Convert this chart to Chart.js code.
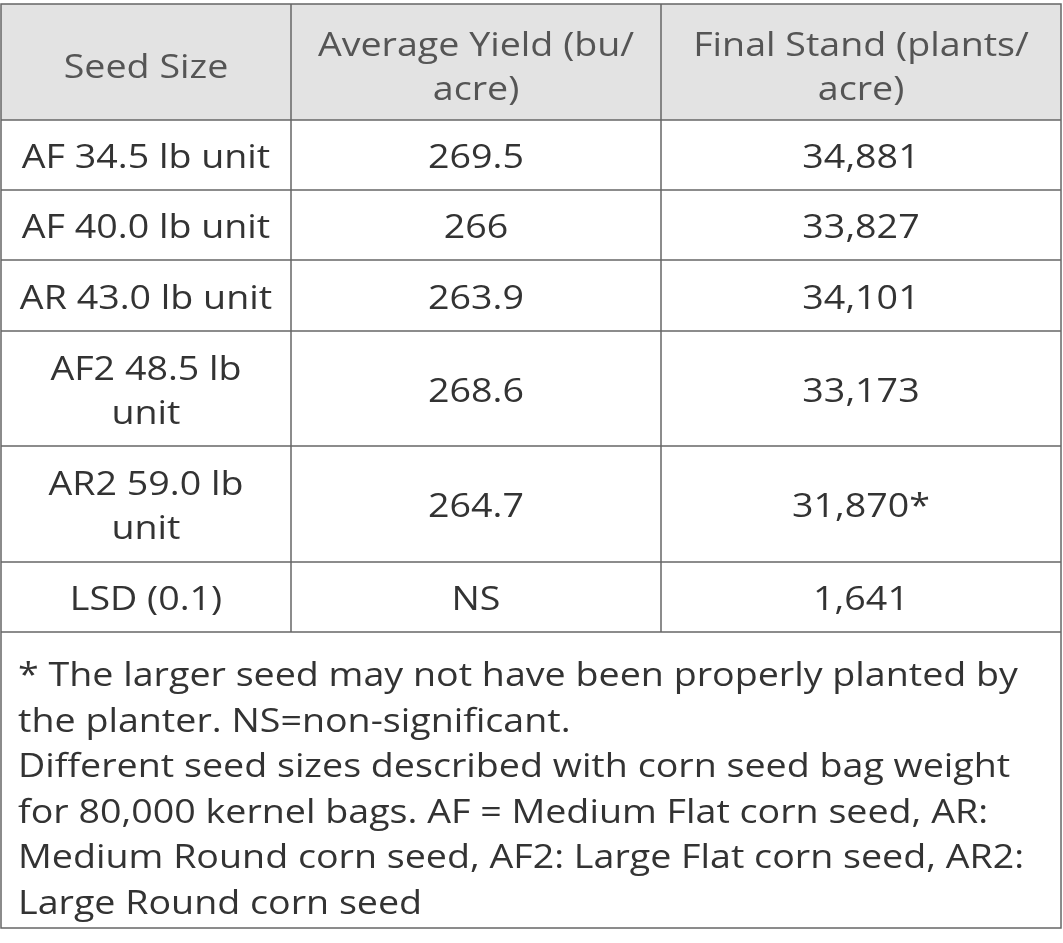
<!DOCTYPE html>
<html><head><meta charset="utf-8">
<script src="https://cdn.jsdelivr.net/npm/chart.js@4.4.0/dist/chart.umd.min.js"></script>
<style>html,body{margin:0;padding:0;background:#fff}#wrap{width:1063px;height:943px}</style>
</head><body><div id="wrap"><canvas id="c"></canvas></div>
<script>
const headers = [['Seed Size'], ['Average Yield (bu/', 'acre)'], ['Final Stand (plants/', 'acre)']];
const seedSizes = [['AF 34.5 lb unit'], ['AF 40.0 lb unit'], ['AR 43.0 lb unit'], ['AF2 48.5 lb', 'unit'], ['AR2 59.0 lb', 'unit'], ['LSD (0.1)']];
const avgYield = ['269.5', '266', '263.9', '268.6', '264.7', 'NS'];
const finalStand = ['34,881', '33,827', '34,101', '33,173', '31,870*', '1,641'];
const notes = [
  '* The larger seed may not have been properly planted by',
  'the planter. NS=non-significant.',
  'Different seed sizes described with corn seed bag weight',
  'for 80,000 kernel bags. AF = Medium Flat corn seed, AR:',
  'Medium Round corn seed, AF2: Large Flat corn seed, AR2:',
  'Large Round corn seed'
];

// grid geometry
const colX = [1, 291, 661, 1061];
const rowY = [4, 120, 190, 260, 331, 446, 562, 632];
const bottom = 928;
const stretch = 1.14;

const tablePlugin = {
  id: 'table',
  afterDraw(chart) {
    const ctx = chart.ctx;
    ctx.save();
    ctx.fillStyle = '#e3e3e3';
    ctx.fillRect(colX[0], rowY[0], colX[3] - colX[0], rowY[1] - rowY[0]);
    ctx.strokeStyle = '#666';
    ctx.lineWidth = 1.5;
    ctx.strokeRect(colX[0], rowY[0], colX[3] - colX[0], bottom - rowY[0]);
    for (let i = 1; i < rowY.length; i++) {
      ctx.beginPath(); ctx.moveTo(colX[0], rowY[i]); ctx.lineTo(colX[3], rowY[i]); ctx.stroke();
    }
    for (let j = 1; j < 3; j++) {
      ctx.beginPath(); ctx.moveTo(colX[j], rowY[0]); ctx.lineTo(colX[j], rowY[rowY.length - 1]); ctx.stroke();
    }
    ctx.font = '33px "Open Sans", sans-serif';
    ctx.textBaseline = 'middle';
    const text = (t, x, y, align) => {
      ctx.save();
      ctx.translate(x, y);
      ctx.scale(stretch, 1);
      ctx.textAlign = align;
      ctx.fillText(t, 0, 0);
      ctx.restore();
    };
    const cell = (lines, c, r, color, dy) => {
      ctx.fillStyle = color;
      const cx = (colX[c] + colX[c + 1]) / 2;
      const cy = (rowY[r] + rowY[r + 1]) / 2 + dy;
      const lh = 44;
      lines.forEach((t, k) => text(t, cx, cy + (k - (lines.length - 1) / 2) * lh, 'center'));
    };
    headers.forEach((h, c) => cell(h, c, 0, '#555', 7));
    seedSizes.forEach((s, i) => {
      cell(s, 0, i + 1, '#333', 4);
      cell([avgYield[i]], 1, i + 1, '#333', 4);
      cell([finalStand[i]], 2, i + 1, '#333', 4);
    });
    ctx.fillStyle = '#333';
    notes.forEach((t, k) => text(t, 18, 677 + k * 45.5, 'left'));
    ctx.restore();
  }
};

new Chart(document.getElementById('c'), {
  type: 'bar',
  data: { labels: seedSizes.map(s => s.join(' ')), datasets: [] },
  options: {
    responsive: true, maintainAspectRatio: false, animation: false,
    plugins: { legend: { display: false }, tooltip: { enabled: false } },
    scales: { x: { display: false }, y: { display: false } }
  },
  plugins: [tablePlugin]
});
</script></body></html>
